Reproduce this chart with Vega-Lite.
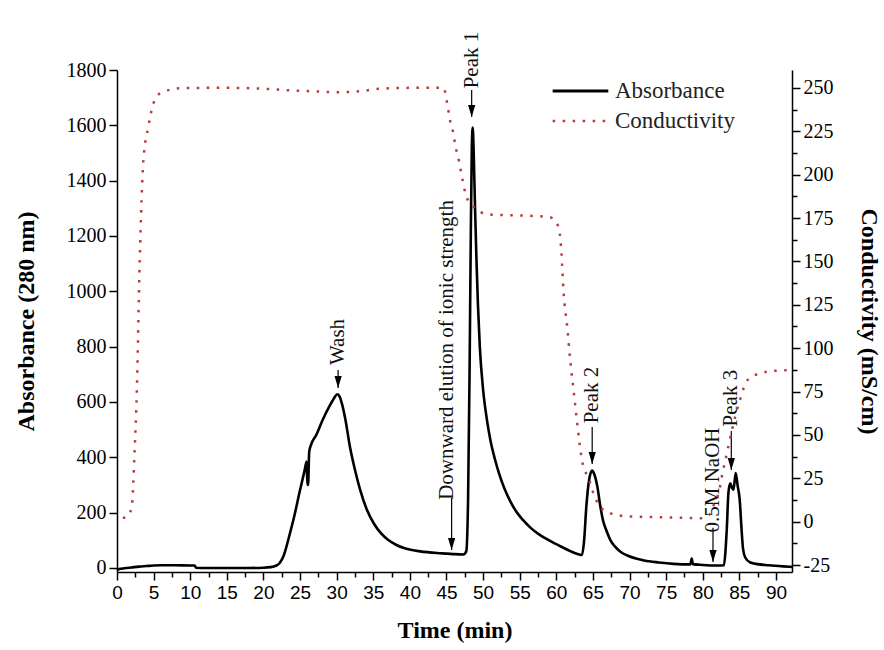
{
  "$schema": "https://vega.github.io/schema/vega-lite/v6.json",
  "width": 675,
  "height": 502,
  "autosize": {"type": "none"},
  "padding": {"left": 117, "top": 70, "right": 92, "bottom": 78},
  "background": "white",
  "config": {
    "view": {"stroke": null},
    "axis": {"grid": false, "domainColor": "black", "tickColor": "black", "labelColor": "black", "titleColor": "black", "domainWidth": 1.5, "tickWidth": 1.5}
  },
  "datasets": {
    "absorbance": [
      {"t": 0, "A": -8}, {"t": 0.3, "A": -4}, {"t": 1, "A": -1}, {"t": 2, "A": 2}, {"t": 3, "A": 5}, {"t": 4, "A": 7}, {"t": 5, "A": 9}, {"t": 6, "A": 10}, {"t": 8, "A": 10}, {"t": 10, "A": 9}, {"t": 10.6, "A": 9}, {"t": 10.8, "A": 1}, {"t": 12, "A": 0}, {"t": 15, "A": 0}, {"t": 18, "A": 0}, {"t": 20, "A": 1}, {"t": 21, "A": 3}, {"t": 21.7, "A": 8}, {"t": 22.2, "A": 17}, {"t": 22.8, "A": 47}, {"t": 23.5, "A": 113}, {"t": 24.2, "A": 186}, {"t": 24.9, "A": 270}, {"t": 25.6, "A": 350}, {"t": 25.9, "A": 385}, {"t": 26.0, "A": 300}, {"t": 26.1, "A": 300}, {"t": 26.25, "A": 420}, {"t": 26.5, "A": 445}, {"t": 27.2, "A": 480}, {"t": 28.1, "A": 536}, {"t": 29.0, "A": 584}, {"t": 29.6, "A": 612}, {"t": 30.1, "A": 628}, {"t": 30.4, "A": 620}, {"t": 30.7, "A": 596}, {"t": 31.2, "A": 536}, {"t": 31.8, "A": 440}, {"t": 32.5, "A": 355}, {"t": 33.2, "A": 283}, {"t": 34.1, "A": 212}, {"t": 35.1, "A": 160}, {"t": 36.1, "A": 124}, {"t": 37.1, "A": 100}, {"t": 38.1, "A": 84}, {"t": 39.1, "A": 73}, {"t": 40.1, "A": 66}, {"t": 41.4, "A": 60}, {"t": 43.7, "A": 54}, {"t": 45.1, "A": 52}, {"t": 46.1, "A": 50}, {"t": 47.3, "A": 49},
      {"t": 47.7, "A": 60}, {"t": 47.95, "A": 250}, {"t": 48.15, "A": 700}, {"t": 48.32, "A": 1200}, {"t": 48.46, "A": 1520}, {"t": 48.58, "A": 1592}, {"t": 48.72, "A": 1500}, {"t": 48.9, "A": 1300}, {"t": 49.1, "A": 1110}, {"t": 49.3, "A": 950}, {"t": 49.55, "A": 800}, {"t": 50.0, "A": 645}, {"t": 50.5, "A": 540}, {"t": 51.0, "A": 462}, {"t": 51.6, "A": 395}, {"t": 52.2, "A": 340}, {"t": 52.9, "A": 288}, {"t": 53.7, "A": 242}, {"t": 54.5, "A": 205}, {"t": 55.5, "A": 172}, {"t": 56.5, "A": 145}, {"t": 57.5, "A": 124}, {"t": 58.6, "A": 106}, {"t": 59.7, "A": 90}, {"t": 60.9, "A": 74}, {"t": 62.0, "A": 60}, {"t": 63.0, "A": 50}, {"t": 63.5, "A": 47},
      {"t": 63.8, "A": 100}, {"t": 64.1, "A": 222}, {"t": 64.5, "A": 322}, {"t": 64.9, "A": 352}, {"t": 65.2, "A": 338}, {"t": 65.6, "A": 295}, {"t": 66.0, "A": 225}, {"t": 66.4, "A": 170}, {"t": 66.8, "A": 138}, {"t": 67.4, "A": 100}, {"t": 68.0, "A": 78}, {"t": 68.8, "A": 58}, {"t": 69.7, "A": 45}, {"t": 71, "A": 33}, {"t": 72, "A": 27}, {"t": 74, "A": 20}, {"t": 76, "A": 15}, {"t": 78.3, "A": 13}, {"t": 78.5, "A": 34}, {"t": 78.65, "A": 14}, {"t": 80, "A": 11}, {"t": 82, "A": 9}, {"t": 82.9, "A": 10},
      {"t": 83.1, "A": 60}, {"t": 83.3, "A": 150}, {"t": 83.5, "A": 270}, {"t": 83.75, "A": 306}, {"t": 84.0, "A": 290}, {"t": 84.2, "A": 283}, {"t": 84.5, "A": 343}, {"t": 84.75, "A": 300}, {"t": 85.05, "A": 246}, {"t": 85.3, "A": 140}, {"t": 85.5, "A": 70}, {"t": 85.8, "A": 38}, {"t": 86.5, "A": 20}, {"t": 87.5, "A": 14}, {"t": 89, "A": 10}, {"t": 91, "A": 6}, {"t": 92.2, "A": 4}
    ],
    "conductivity": [
      {"t": 0.8, "C": 2.2}, {"t": 1.3, "C": 2.6}, {"t": 2.0, "C": 8}, {"t": 2.4, "C": 40}, {"t": 2.7, "C": 74}, {"t": 3.1, "C": 150}, {"t": 3.6, "C": 208}, {"t": 4.3, "C": 228}, {"t": 4.9, "C": 240}, {"t": 5.5, "C": 245.5}, {"t": 6.6, "C": 248}, {"t": 8.6, "C": 249.8}, {"t": 12, "C": 250}, {"t": 16, "C": 250}, {"t": 20, "C": 249.5}, {"t": 24, "C": 248.5}, {"t": 27, "C": 248}, {"t": 30, "C": 247.5}, {"t": 33, "C": 248}, {"t": 36, "C": 249.5}, {"t": 40, "C": 250}, {"t": 44.6, "C": 250},
      {"t": 45.1, "C": 241}, {"t": 45.5, "C": 231}, {"t": 45.9, "C": 224.5}, {"t": 46.2, "C": 217}, {"t": 46.7, "C": 208}, {"t": 47.1, "C": 199}, {"t": 47.6, "C": 189}, {"t": 48.1, "C": 184}, {"t": 48.7, "C": 181.5}, {"t": 49.6, "C": 178.5}, {"t": 50.8, "C": 177}, {"t": 55, "C": 176.5}, {"t": 59.1, "C": 175.5},
      {"t": 59.9, "C": 173}, {"t": 60.4, "C": 168}, {"t": 60.7, "C": 155}, {"t": 61.0, "C": 132}, {"t": 61.5, "C": 112}, {"t": 61.9, "C": 93}, {"t": 62.4, "C": 74}, {"t": 62.9, "C": 55}, {"t": 63.5, "C": 35.5}, {"t": 64.5, "C": 24}, {"t": 65.1, "C": 16}, {"t": 66.0, "C": 8.5}, {"t": 67.4, "C": 4.8}, {"t": 70, "C": 3}, {"t": 75, "C": 2.5}, {"t": 80, "C": 2},
      {"t": 80.9, "C": 4}, {"t": 81.5, "C": 9.6}, {"t": 82.2, "C": 17}, {"t": 82.7, "C": 28}, {"t": 83.3, "C": 39.5}, {"t": 84.0, "C": 53}, {"t": 85.0, "C": 69}, {"t": 86.1, "C": 81.5}, {"t": 87.9, "C": 85.6}, {"t": 90, "C": 87}, {"t": 92.2, "C": 87.3}
    ],
    "arrows": [
      {"t": 30.2, "A1": 716, "A2": 651},
      {"t": 48.44, "A1": 1728, "A2": 1630},
      {"t": 45.7, "A1": 253, "A2": 65},
      {"t": 64.9, "A1": 510, "A2": 376},
      {"t": 81.4, "A1": 145, "A2": 22},
      {"t": 83.9, "A1": 495, "A2": 354}
    ],
    "labels": [
      {"label": "Wash", "t": 30.2, "A": 817},
      {"label": "Peak 1", "t": 48.44, "A": 1836},
      {"label": "Downward elution of ionic strength", "t": 45.07, "A": 788},
      {"label": "Peak 2", "t": 64.9, "A": 625},
      {"label": "0.5M NaOH", "t": 81.4, "A": 318},
      {"label": "Peak 3", "t": 83.9, "A": 614}
    ],
    "legend": [
      {"label": "Absorbance", "t": 59.5, "t2": 67.1, "tx": 68.0, "A": 1724},
      {"label": "Conductivity", "t": 59.5, "t2": 67.1, "tx": 68.0, "A": 1616}
    ]
  },
  "encoding": {
    "x": {
      "field": "t", "type": "quantitative",
      "scale": {"domain": [0, 92.19], "nice": false, "zero": false},
      "axis": {
        "title": "Time (min)",
        "values": [0, 2.5, 5, 7.5, 10, 12.5, 15, 17.5, 20, 22.5, 25, 27.5, 30, 32.5, 35, 37.5, 40, 42.5, 45, 47.5, 50, 52.5, 55, 57.5, 60, 62.5, 65, 67.5, 70, 72.5, 75, 77.5, 80, 82.5, 85, 87.5, 90],
        "labelExpr": "datum.value % 5 === 0 ? '' + datum.value : ''",
        "tickSize": {"condition": {"test": "datum.value % 5 === 0", "value": 8}, "value": 5},
        "labelFont": "Liberation Sans Narrow, Arial Narrow, Liberation Sans",
        "labelFontSize": 19,
        "labelPadding": 3,
        "labelFlush": false,
        "labelOverlap": false,
        "titleFont": "Liberation Serif",
        "titleFontSize": 24,
        "titleFontWeight": "bold",
        "titlePadding": 16
      }
    }
  },
  "layer": [
    {
      "layer": [
        {
          "data": {"name": "absorbance"},
          "mark": {"type": "line", "color": "black", "strokeWidth": 2.6, "interpolate": "monotone"},
          "encoding": {
            "y": {
              "field": "A", "type": "quantitative",
              "scale": {"domain": [-14.5, 1800], "nice": false, "zero": false},
              "axis": {
                "title": "Absorbance (280 nm)",
                "values": [0, 100, 200, 300, 400, 500, 600, 700, 800, 900, 1000, 1100, 1200, 1300, 1400, 1500, 1600, 1700, 1800],
                "labelExpr": "datum.value % 200 === 0 ? '' + datum.value : ''",
                "tickSize": {"condition": {"test": "datum.value % 200 === 0", "value": 8}, "value": 5},
                "labelFont": "Liberation Serif",
                "labelFontSize": 20,
                "labelPadding": 3,
                "labelFlush": false,
                "labelOverlap": false,
                "titleFont": "Liberation Serif",
                "titleFontSize": 24,
                "titleFontWeight": "bold",
                "titlePadding": 28
              }
            }
          }
        },
        {
          "data": {"name": "arrows"},
          "mark": {"type": "rule", "color": "black", "strokeWidth": 1.2},
          "encoding": {
            "y": {"field": "A1", "type": "quantitative"},
            "y2": {"field": "A2"}
          }
        },
        {
          "data": {"name": "arrows"},
          "mark": {"type": "point", "shape": "M -0.6 -2 L 0.6 -2 L 0 0 Z", "size": 144, "filled": true, "color": "black", "opacity": 1},
          "encoding": {
            "y": {"field": "A2", "type": "quantitative"}
          }
        },
        {
          "data": {"name": "labels"},
          "mark": {"type": "text", "angle": 270, "align": "center", "baseline": "middle", "font": "Liberation Serif", "fontSize": 21, "color": "#111111"},
          "encoding": {
            "y": {"field": "A", "type": "quantitative"},
            "text": {"field": "label"}
          }
        },
        {
          "data": {"name": "legend"},
          "transform": [{"filter": "datum.label === 'Absorbance'"}],
          "mark": {"type": "rule", "color": "black", "strokeWidth": 3},
          "encoding": {
            "x2": {"field": "t2"},
            "y": {"field": "A", "type": "quantitative"}
          }
        },
        {
          "data": {"name": "legend"},
          "transform": [{"filter": "datum.label === 'Conductivity'"}],
          "mark": {"type": "rule", "color": "#b0403f", "strokeWidth": 2.5, "strokeDash": [2.5, 7.5]},
          "encoding": {
            "x2": {"field": "t2"},
            "y": {"field": "A", "type": "quantitative"}
          }
        },
        {
          "data": {"name": "legend"},
          "mark": {"type": "text", "align": "left", "baseline": "middle", "font": "Liberation Serif", "fontSize": 23, "color": "#222222"},
          "encoding": {
            "x": {"field": "tx", "type": "quantitative"},
            "y": {"field": "A", "type": "quantitative"},
            "text": {"field": "label"}
          }
        }
      ]
    },
    {
      "data": {"name": "conductivity"},
      "mark": {"type": "line", "color": "#b0403f", "strokeWidth": 2.5, "strokeDash": [2.5, 7.5], "interpolate": "monotone"},
      "encoding": {
        "y": {
          "field": "C", "type": "quantitative",
          "scale": {"domain": [-29.0, 260.3], "nice": false, "zero": false},
          "axis": {
            "orient": "right",
            "title": "Conductivity (mS/cm)",
            "values": [-25, -12.5, 0, 12.5, 25, 37.5, 50, 62.5, 75, 87.5, 100, 112.5, 125, 137.5, 150, 162.5, 175, 187.5, 200, 212.5, 225, 237.5, 250],
            "labelExpr": "datum.value % 25 === 0 ? '' + datum.value : ''",
            "tickSize": {"condition": {"test": "datum.value % 25 === 0", "value": 8}, "value": 5},
            "labelFont": "Liberation Serif",
            "labelFontSize": 20,
            "labelPadding": 3,
            "labelFlush": false,
            "labelOverlap": false,
            "titleFont": "Liberation Serif",
            "titleFontSize": 24,
            "titleFontWeight": "bold",
            "titlePadding": 23
          }
        }
      }
    }
  ],
  "resolve": {"scale": {"y": "independent"}}
}
